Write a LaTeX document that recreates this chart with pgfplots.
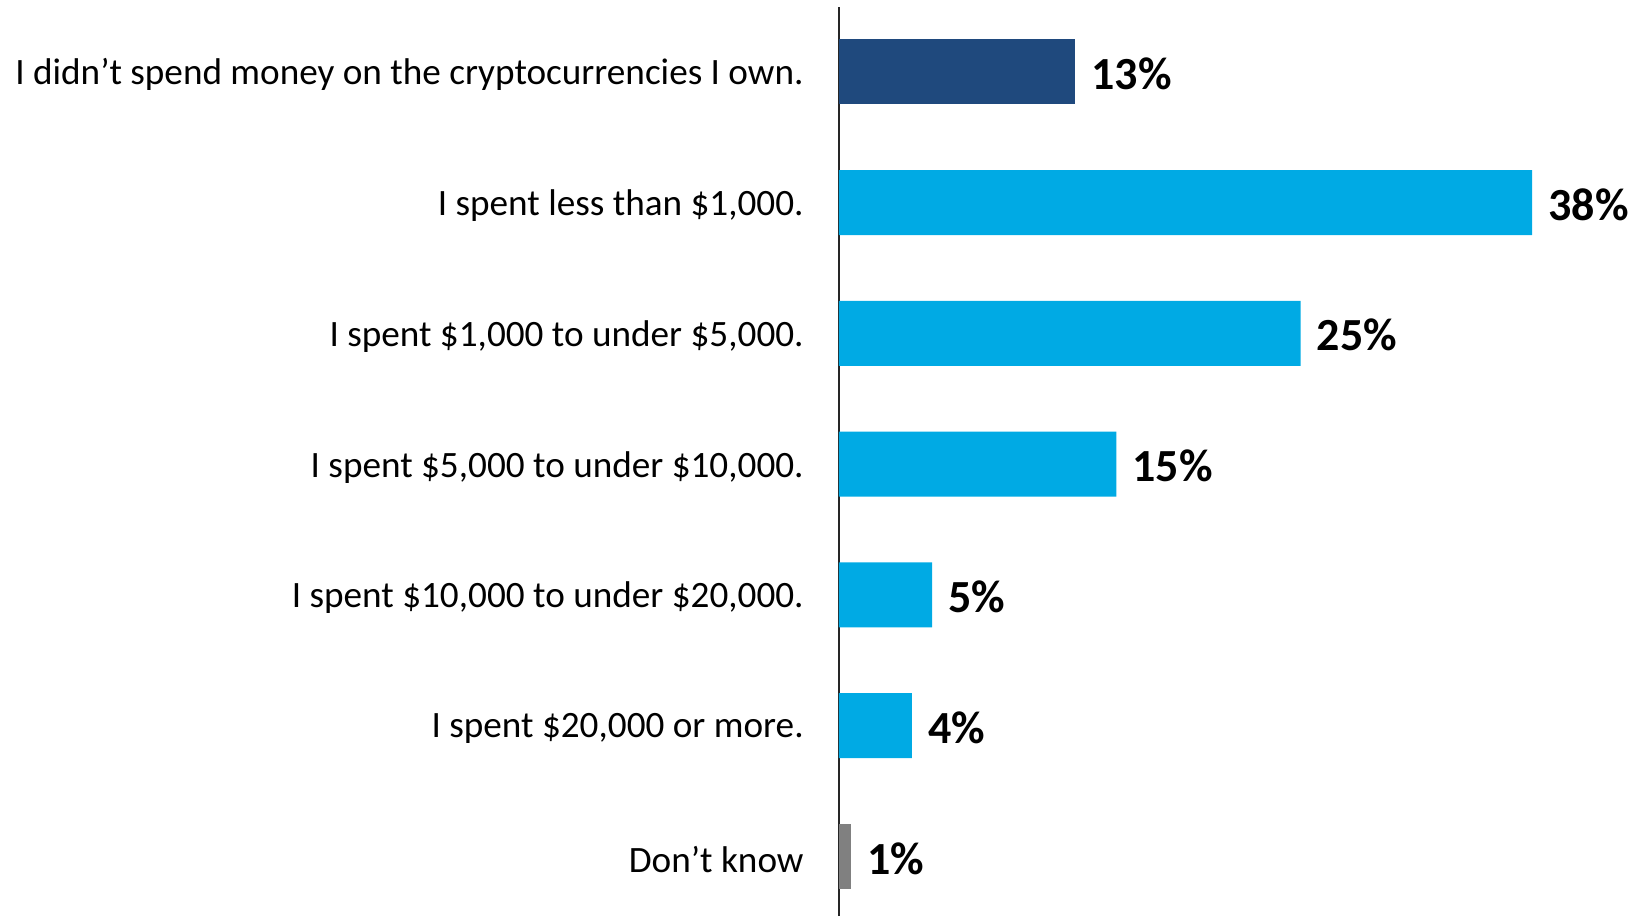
\documentclass[border=0pt]{standalone}
\usepackage{pgfplots}
\pgfplotsset{compat=1.18}
\usepackage{pgfplotstable}
\usepackage{fontspec}
\setmainfont{Carlito}
\definecolor{navy}{RGB}{31,73,125}
\definecolor{cyanbar}{RGB}{0,170,228}
\definecolor{graybar}{RGB}{128,128,128}
\pgfplotstableread{
y v lab
6 12.94 13\%
}\navydata
\pgfplotstableread{
y v lab
5 38.0 38\%
4 25.3 25\%
3 15.2 15\%
2 5.1 5\%
1 4.0 4\%
}\cyandata
\pgfplotstableread{
y v lab
0 0.66 1\%
}\graydata
\begin{document}
\begin{tikzpicture}
\begin{axis}[
  scale only axis,
  width=402.5pt, height=454.5pt,
  xmin=0, xmax=44.13,
  ymin=-0.455, ymax=6.495,
  axis y line=left,
  axis x line=none,
  y axis line style={-, line width=0.7pt, color=black!85},
  ytick={0,1,2,3,4,5,6},
  yticklabels={{Don’t know}, {I spent \$20,000 or more.}, {I spent \$10,000 to under \$20,000.}, {I spent \$5,000 to under \$10,000.}, {I spent \$1,000 to under \$5,000.}, {I spent less than \$1,000.}, {I didn’t spend money on the cryptocurrencies I own.}},
  major tick length=0pt,
  ytick style={draw=none},
  yticklabel style={anchor=east, inner sep=0pt, xshift=-17.5pt, yshift=-1.5pt, font=\fontsize{18.6}{20}\selectfont},
  clip=false,
  nodes near coords style={anchor=west, inner sep=0pt, xshift=8pt, yshift=-1pt, font=\bfseries\fontsize{23}{24}\selectfont, text=black},
]
\addplot[xbar, bar width=32.5pt, bar shift=0pt, fill=navy, draw=none, nodes near coords, point meta=explicit symbolic] table[x=v, y=y, meta=lab] {\navydata};
\addplot[xbar, bar width=32.5pt, bar shift=0pt, fill=cyanbar, draw=none, nodes near coords, point meta=explicit symbolic] table[x=v, y=y, meta=lab] {\cyandata};
\addplot[xbar, bar width=32.5pt, bar shift=0pt, fill=graybar, draw=none, nodes near coords, point meta=explicit symbolic] table[x=v, y=y, meta=lab] {\graydata};
\end{axis}
\path ([xshift=-419.5pt, yshift=3.5pt]current axis.north west) rectangle (current axis.south east);
\end{tikzpicture}
\end{document}
